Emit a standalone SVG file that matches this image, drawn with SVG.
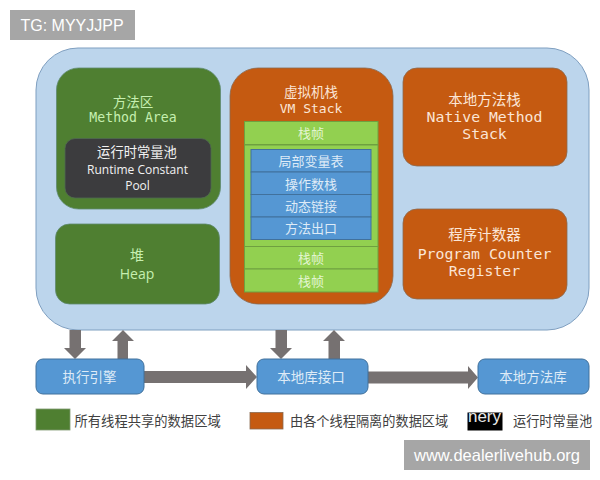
<svg xmlns="http://www.w3.org/2000/svg" width="600" height="480" viewBox="0 0 600 480">
<defs><style>
text{text-anchor:middle;font-family:"Liberation Sans","Noto Sans CJK SC",sans-serif}
.cjk{font-family:"Noto Sans CJK SC",sans-serif}
.mono{font-family:"DejaVu Sans Mono","Noto Sans CJK SC",monospace}
.sans{font-family:"Open Sans","Noto Sans CJK SC",sans-serif}
.gt{fill:#c6efb0}.wt{fill:#f2f2f2}.ot{fill:#fbe5d6}.bt{fill:#deebf7}.lt{fill:#e2f5d0}
.green{fill:#4f7f31;stroke:#5f8a70;stroke-width:.8}
.orange{fill:#c55a11;stroke:#8a6a50;stroke-width:.8}
.lg{fill:#92d050;stroke:#6fa040;stroke-width:1}
.bl{fill:#5597d3;stroke:#41719c;stroke-width:1}
.arr{fill:#767171}
.leg{fill:#404040;text-anchor:start}
</style></defs>
<rect width="600" height="480" fill="#fff"/>
<g id="outer"><rect x="36" y="48" width="553" height="282" rx="42" fill="#bcd5ec" stroke="#7f9fc0" stroke-width="1"/></g>
<g id="method-area"><rect class="green" x="56.500" y="68" width="164" height="141" rx="22"/>
<text class="cjk gt" x="133" y="107" font-size="13.500">方法区</text>
<text class="mono gt" x="133" y="122" font-size="13.200">Method Area</text></g>
<g id="runtime-pool"><rect x="65" y="138.500" width="146" height="59.500" rx="10" fill="#3c3c3e" stroke="#4f6a50" stroke-width=".8"/>
<text class="cjk wt" x="137" y="157" font-size="13.300">运行时常量池</text>
<text class="sans wt" x="137.500" y="174" font-size="12">Runtime Constant</text>
<text class="sans wt" x="137.500" y="189.500" font-size="12">Pool</text></g>
<g id="heap"><rect class="green" x="55.500" y="224" width="164" height="80" rx="14"/>
<text class="cjk gt" x="137" y="259.500" font-size="14">堆</text>
<text class="sans gt" x="137" y="279" font-size="14">Heap</text></g>
<g id="vm-stack"><rect class="orange" x="230" y="68" width="163" height="236" rx="28"/>
<text class="cjk ot" x="311" y="97" font-size="13.500">虚拟机栈</text>
<text class="mono ot" x="311" y="113" font-size="13">VM Stack</text></g>
<g id="frame-1"><rect class="lg" x="244.500" y="121.500" width="133.500" height="23"/><text class="cjk lt" x="311" y="137.500" font-size="13">栈帧</text></g>
<g id="frame-body"><rect class="lg" x="244.500" y="145" width="133.500" height="101.500"/></g>
<g id="locals"><rect class="bl" x="251" y="149.500" width="120" height="22.500"/><text class="cjk bt" x="311" y="166" font-size="13">局部变量表</text></g>
<g id="operands"><rect class="bl" x="251" y="172" width="120" height="22.500"/><text class="cjk bt" x="311" y="188.500" font-size="13">操作数栈</text></g>
<g id="dynlink"><rect class="bl" x="251" y="194.500" width="120" height="22.500"/><text class="cjk bt" x="311" y="210.500" font-size="13">动态链接</text></g>
<g id="return"><rect class="bl" x="251" y="217" width="120" height="22.500"/><text class="cjk bt" x="311" y="233" font-size="13">方法出口</text></g>
<g id="frame-2"><rect class="lg" x="244.500" y="246.500" width="133.500" height="22.500"/><text class="cjk lt" x="311" y="263" font-size="13">栈帧</text></g>
<g id="frame-3"><rect class="lg" x="244.500" y="269" width="133.500" height="23"/><text class="cjk lt" x="311" y="286" font-size="13">栈帧</text></g>
<g id="native-stack"><rect class="orange" x="403" y="68" width="164" height="98" rx="14"/>
<text class="cjk ot" x="484.500" y="105" font-size="14.500">本地方法栈</text>
<text class="mono ot" x="484.500" y="122" font-size="14.800">Native Method</text>
<text class="mono ot" x="484.500" y="139" font-size="14.800">Stack</text></g>
<g id="pc-register"><rect class="orange" x="403" y="209" width="164" height="90" rx="14"/>
<text class="cjk ot" x="484.500" y="240" font-size="14.500">程序计数器</text>
<text class="mono ot" x="484.500" y="259" font-size="14.800">Program Counter</text>
<text class="mono ot" x="484.500" y="276" font-size="14.800">Register</text></g>
<g id="connectors">
<polygon class="arr" points="69.500,330 81,330 81,348 86,348 75,359 64,348 69.500,348"/>
<polygon class="arr" points="117.500,359 128,359 128,341 134,341 123,330 112,341 117.500,341"/>
<polygon class="arr" points="275.500,330 287,330 287,348 292,348 281,359 270,348 275.500,348"/>
<polygon class="arr" points="328.500,359 340,359 340,341 345,341 334,330 323,341 328.500,341"/>
<polygon class="arr" points="144,371 246,371 246,365 257,377 246,389 246,383 144,383"/>
<polygon class="arr" points="368,371.500 468,371.500 468,366 478,377.500 468,389 468,383.500 368,383.500"/>
</g>
<g id="exec-engine"><rect class="bl" x="36" y="359" width="108" height="35" rx="7"/><text class="cjk bt" x="89.500" y="382" font-size="13.500">执行引擎</text></g>
<g id="native-interface"><rect class="bl" x="257" y="359" width="111" height="35" rx="7"/><text class="cjk bt" x="311" y="382" font-size="13.500">本地库接口</text></g>
<g id="native-lib"><rect class="bl" x="478" y="359" width="111" height="35" rx="7"/><text class="cjk bt" x="533" y="382" font-size="13.500">本地方法库</text></g>
<g id="legend">
<rect x="36" y="409" width="34" height="21" fill="#4f7f31" stroke="#7f9a70" stroke-width=".8"/>
<text class="cjk leg" x="74.500" y="426" font-size="13.300">所有线程共享的数据区域</text>
<rect x="250" y="412.500" width="33" height="16.500" fill="#c55a11" stroke="#8a6a50" stroke-width=".8"/>
<text class="cjk leg" x="290" y="426" font-size="13.200">由各个线程隔离的数据区域</text>
<rect x="467.500" y="412.500" width="35" height="18" fill="#000"/>
<text x="484.500" y="421.500" font-size="17" fill="#e8e8e8">nery</text>
<text class="cjk leg" x="513" y="426" font-size="13.200">运行时常量池</text>
</g>
<g id="tag-top"><rect x="10" y="10" width="125" height="30" fill="#a6a6a6"/><text x="72" y="30.500" font-size="16" fill="#fff">TG: MYYJJPP</text></g>
<g id="tag-bottom"><rect x="404" y="440" width="186" height="30" fill="#a6a6a6"/><text x="497" y="461" font-size="16.500" fill="#fff">www.dealerlivehub.org</text></g>
</svg>
